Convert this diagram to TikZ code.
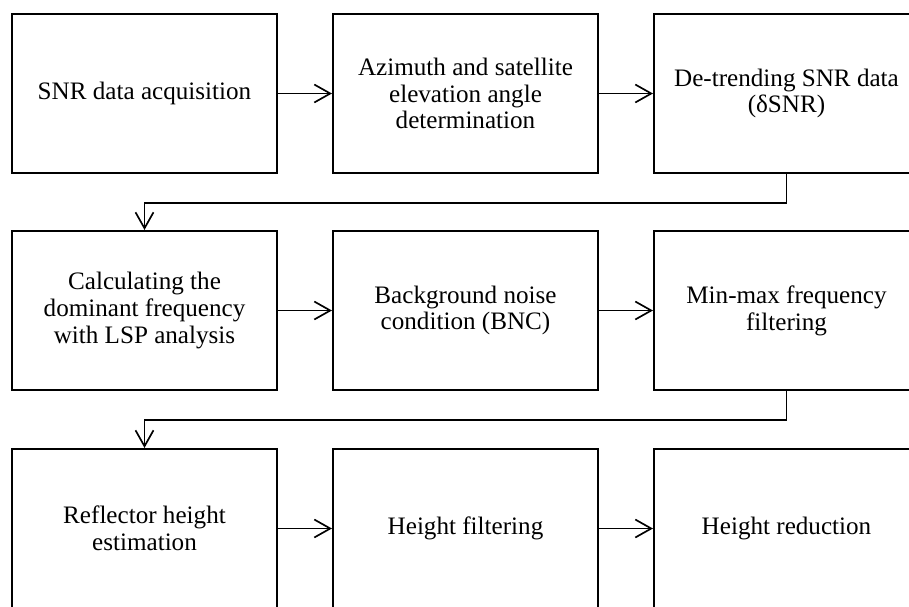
\documentclass[tikz,border=0pt]{standalone}
\usepackage{fontspec}
\setmainfont{Liberation Serif}
\usetikzlibrary{arrows.meta,shadows}

\begin{document}
\begin{tikzpicture}[x=0.02cm, y=-0.02cm,
		stage/.style={draw, line width=1.2pt, fill=white, minimum width=5.3cm, minimum height=3.18cm,
			align=center, font=\fontsize{14.3}{15.3}\selectfont,
			drop shadow={opacity=0.25, shadow xshift=0.7pt, shadow yshift=-0.7pt}},
		flow/.style={line width=0.95pt, -{Straight Barb[length=0.32cm, width=0.36cm]}}]
			\clip (0, 0) rectangle (909, 606);
			
			% first row
			\node[stage] (snr) at (144.5, 93.5) {SNR data acquisition};
			\node[stage] (azim) at (465.5, 93.5) {Azimuth and satellite\\elevation angle\\determination};
			\node[stage] (detrend) at (786.5, 93.5) {De-trending SNR data\\(δSNR)};
			
			% second row
			\node[stage] (lsp) at (144.5, 310.5) {Calculating the\\dominant frequency\\with LSP analysis};
			\node[stage] (bnc) at (465.5, 310.5) {Background noise\\condition (BNC)};
			\node[stage] (minmax) at (786.5, 310.5) {Min-max frequency\\filtering};
			
			% third row
			\node[stage] (reflh) at (144.5, 528.5) {Reflector height\\estimation};
			\node[stage] (hfilt) at (465.5, 528.5) {Height filtering};
			\node[stage] (hred) at (786.5, 528.5) {Height reduction};
			
			% arrows in a row
			\foreach \a/\b in {snr/azim, azim/detrend, lsp/bnc, bnc/minmax, reflh/hfilt, hfilt/hred}{
				\draw[flow] (\a) -- (\b);
			}
			
			% turns to the next row
			\foreach \a/\b in {detrend/lsp, minmax/reflh}{
				\draw[flow] (\a.south) -- ++(0, 29) -| (\b.north);
			}
		\end{tikzpicture}
\end{document}
